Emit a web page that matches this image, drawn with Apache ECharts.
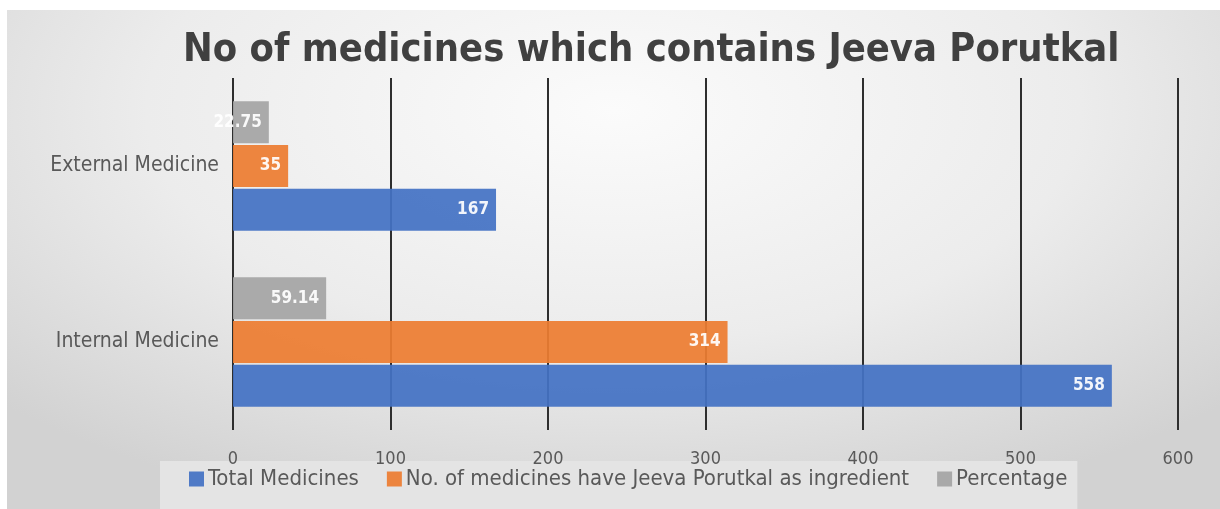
<!DOCTYPE html>
<html>
<head>
<meta charset="utf-8">
<script src="https://cdn.jsdelivr.net/npm/echarts@6/dist/echarts.min.js"></script>
<style>
    html, body { margin: 0; padding: 0; background: #ffffff; }
    #panel {
        position: absolute; left: 7px; top: 10px; width: 1213px; height: 499px;
        background: radial-gradient(ellipse 70% 85% at 50% 20%, #fbfbfb 0%, #ececec 55%, #d2d2d2 100%);
    }
    #main { position: absolute; left: 0; top: 0; width: 1220px; height: 509px; }
</style>
</head>
<body>
<div id="panel"></div>
<div id="main"></div>
<script>
const categories = ['Internal Medicine', 'External Medicine'];
const totalMedicines = [558, 167];
const withJeevaPorutkal = [314, 35];
const percentage = [59.14, 22.75];
const xTicks = [0, 100, 200, 300, 400, 500, 600];
const legendNames = ['Total Medicines', 'No. of medicines have Jeeva Porutkal as ingredient', 'Percentage'];

const chart = echarts.init(document.getElementById('main'));

const labelStyle = {
    show: true,
    position: 'insideRight',
    distance: 7,
    color: '#ffffff',
    fontWeight: 'bold',
    fontSize: 17,
    fontFamily: 'DejaVu Sans Condensed, Open Sans'
};

const makeSeries = (name, data, color) => ({
    name: name,
    type: 'bar',
    data: data,
    barWidth: 42,
    barGap: '4%',
    itemStyle: { color: color, opacity: 0.93 },
    label: labelStyle
});

option = {
    backgroundColor: 'transparent',
    title: {
        text: 'No of medicines which contains Jeeva Porutkal',
        left: 178,
        top: 26,
        textStyle: {
            fontFamily: 'DejaVu Sans Condensed, Open Sans',
            fontSize: 39.5,
            fontWeight: 'bold',
            color: '#404040'
        }
    },
    legend: {
        z: 0,
        left: 160,
        top: 461,
        backgroundColor: '#e4e4e4',
        padding: [7, 10, 20, 29],
        itemWidth: 15,
        itemHeight: 15,
        itemGap: 28,
        icon: 'rect',
        textStyle: { fontSize: 22, color: '#595959', fontFamily: 'DejaVu Sans Condensed', padding: [0, 0, 0, -1] },
        data: legendNames
    },
    grid: { left: 233, right: 42, top: 78, bottom: 79 },
    xAxis: {
        type: 'value',
        z: 1,
        min: xTicks[0],
        max: xTicks[xTicks.length - 1],
        interval: 100,
        axisLine: { show: false },
        axisTick: { show: false },
        axisLabel: { fontSize: 18, color: '#595959', fontFamily: 'DejaVu Sans Condensed', margin: 20 },
        splitLine: { show: true, lineStyle: { color: '#2e2e2e', width: 2 } }
    },
    yAxis: {
        type: 'category',
        data: categories,
        axisLine: { show: false },
        axisTick: { show: false },
        axisLabel: { fontSize: 21, color: '#595959', fontFamily: 'DejaVu Sans Condensed', margin: 14 }
    },
    // series listed top to bottom inside each band
    series: [
        makeSeries(legendNames[2], percentage, '#A5A5A5'),
        makeSeries(legendNames[1], withJeevaPorutkal, '#ED7D31'),
        makeSeries(legendNames[0], totalMedicines, '#4472C4')
    ]
};

chart.setOption(option);
</script>
</body>
</html>
